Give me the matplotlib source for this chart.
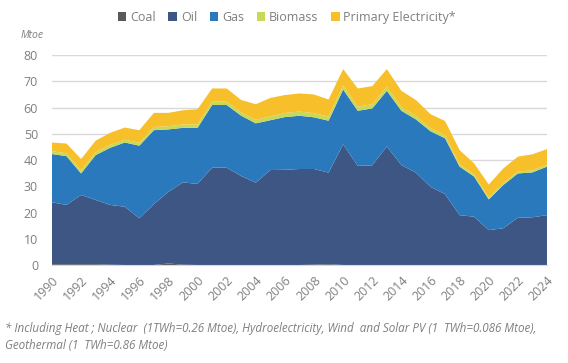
import numpy as np
import matplotlib
matplotlib.use('Agg')
from matplotlib import pyplot as plt
from matplotlib.patches import Patch

years = list(range(1990, 2025))

coal = [0.3, 0.3, 0.3, 0.3, 0.1, 0.0, 0.0, 0.0, 0.6, 0.1,
        0.0, 0.0, 0.0, 0.0, 0.0, 0.0, 0.0, 0.0, 0.1, 0.3,
        0.0, 0.0, 0.0, 0.0, 0.0, 0.0, 0.0, 0.0, 0.0, 0.0,
        0.0, 0.0, 0.0, 0.0, 0.0]
oil = [23.6, 22.6, 26.4, 24.5, 22.8, 22.2, 17.8, 23.2, 27.3, 31.4,
       30.9, 37.1, 37.1, 33.9, 31.4, 36.2, 36.3, 36.6, 36.5, 34.9,
       46.0, 37.8, 38.0, 45.2, 38.1, 35.2, 29.8, 27.0, 19.0, 18.4,
       13.3, 14.0, 18.0, 18.2, 19.0]
gas = [18.4, 18.6, 8.2, 17.1, 21.8, 24.5, 27.7, 28.2, 23.8, 20.8,
       21.4, 23.9, 23.9, 23.0, 22.6, 19.0, 20.1, 20.3, 19.7, 19.8,
       20.9, 21.0, 21.7, 21.2, 20.7, 20.3, 21.2, 21.3, 18.5, 15.3,
       11.7, 16.5, 16.9, 17.1, 18.5]
biomass = [1.1, 1.1, 1.2, 1.1, 1.1, 1.1, 1.1, 1.2, 1.2, 1.3,
           1.3, 1.3, 1.3, 1.3, 1.4, 1.5, 1.6, 1.6, 1.6, 1.6,
           1.6, 1.6, 1.6, 1.5, 1.4, 1.3, 1.2, 1.1, 0.9, 0.8,
           0.7, 0.7, 0.7, 0.8, 0.8]
elec = [3.3, 3.7, 4.3, 4.4, 4.6, 4.6, 4.8, 5.4, 5.1, 5.4,
        5.8, 5.0, 5.0, 4.7, 5.9, 7.0, 6.8, 6.9, 7.1, 6.5,
        6.2, 6.9, 6.9, 6.8, 6.2, 6.1, 5.3, 5.5, 5.4, 4.2,
        5.0, 5.6, 5.7, 6.1, 5.9]

labels = ['Coal', 'Oil', 'Gas', 'Biomass', 'Primary Electricity*']
colors = ['#595959', '#3e5683', '#2a79bd', '#c9d856', '#f7bf2a']

plt.rcParams['font.family'] = ['Open Sans', 'DejaVu Sans']
txt = '#7f7f7f'

fig = plt.figure(figsize=(5.68, 3.63), dpi=100)
ax = fig.add_axes([0.0915, 0.270, 0.8715, 0.578])

ax.stackplot(years, coal, oil, gas, biomass, elec, colors=colors,
             edgecolor='none', linewidth=0)
ax.set_xlim(1990, 2024)
ax.set_ylim(0, 80)
ax.set_yticks(range(0, 81, 10))
ax.set_xticks(range(1990, 2025, 2))
ax.set_xticklabels([str(y) for y in range(1990, 2025, 2)], rotation=45,
                   ha='right', va='top', rotation_mode='anchor')
ax.tick_params(axis='both', length=0, labelsize=9, colors=txt)
ax.tick_params(axis='x', pad=6)
ax.tick_params(axis='y', pad=10)
ax.yaxis.grid(True, color='#d9d9d9', linewidth=1)
ax.set_axisbelow(True)
for s in ['top', 'right', 'left']:
  ax.spines[s].set_visible(False)
ax.spines['bottom'].set_color('#d9d9d9')

handles = [Patch(facecolor=c, edgecolor='none') for c in colors]
fig.legend(handles, labels, loc='center', bbox_to_anchor=(0.505, 0.953),
           ncol=5, frameon=False, fontsize=9, handlelength=0.7,
           handleheight=0.7, handletextpad=0.3, columnspacing=1.0,
           labelcolor=txt)

fig.text(0.037, 0.895, 'Mtoe', fontsize=7.5, style='italic', color=txt)
fig.text(0.008, 0.085, '* Including Heat ; Nuclear  (1TWh=0.26 Mtoe), Hydroelectricity, Wind  and Solar PV (1  TWh=0.086 Mtoe),',
         fontsize=8.4, style='italic', color=txt)
fig.text(0.008, 0.038, 'Geothermal (1  TWh=0.86 Mtoe)',
         fontsize=8.4, style='italic', color=txt)

fig.savefig('out.png', dpi=100)
